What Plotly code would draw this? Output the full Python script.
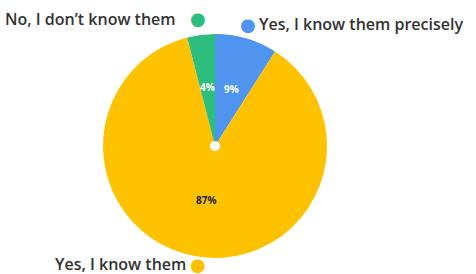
import math
import plotly.graph_objects as go

labels = ["Yes, I know them precisely", "Yes, I know them", "No, I don\u2019t know them"]
values = [9, 87, 4]
colors = ["#4f94ef", "#ffc200", "#2dbd7d"]
text_colors = ["white", "#222222", "white"]
label_radius = [0.53, 0.49, 0.53]

W, H = 476, 274
cx, cy, R = 215, 146, 112  # pie centre / radius in pixels

fig = go.Figure(go.Pie(
    labels=labels, values=values, sort=False, direction="clockwise", rotation=0,
    marker=dict(colors=colors, line=dict(width=0)),
    textinfo="none", hole=0.045, showlegend=False, hoverinfo="skip",
    domain=dict(x=[(cx - R) / W, (cx + R) / W], y=[1 - (cy + R) / H, 1 - (cy - R) / H]),
))

anns = []
total = sum(values)
acc = 0
for v, tc, rf in zip(values, text_colors, label_radius):
    mid = (acc + v / 2) / total * 2 * math.pi
    acc += v
    px = cx + rf * R * math.sin(mid)
    py = cy - rf * R * math.cos(mid)
    anns.append(dict(x=px / W, y=1 - py / H, text=f"<b>{round(v / total * 100)}%</b>",
                     xanchor="center", font=dict(family="Open Sans", size=10, color=tc)))

font = dict(family="Open Sans", size=16, color="#333333", weight=600)
dot = dict(family="DejaVu Sans", size=18)
anns += [
    dict(x=178/W, y=1-19/H, text="No, I don\u2019t know them", xanchor="right", font=font),
    dict(x=198/W, y=1-19/H, text="\u25CF", xanchor="center", font=dict(dot, color=colors[2])),
    dict(x=248/W, y=1-24/H, text="\u25CF", xanchor="center", font=dict(dot, color=colors[0])),
    dict(x=257/W, y=1-24/H, text="Yes, I know them precisely", xanchor="left", font=font),
    dict(x=188/W, y=1-264/H, text="Yes, I know them", xanchor="right", font=font),
    dict(x=198/W, y=1-264/H, text="\u25CF", xanchor="center", font=dict(dot, color=colors[1])),
]
for a in anns:
    a.update(xref="paper", yref="paper", yanchor="middle", showarrow=False)
fig.update_layout(width=W, height=H, margin=dict(l=0, r=0, t=0, b=0),
                  paper_bgcolor="white", plot_bgcolor="white", annotations=anns)
fig.write_html("out.html", config={"displayModeBar": False},
               post_script="document.body.style.margin='0px';")
